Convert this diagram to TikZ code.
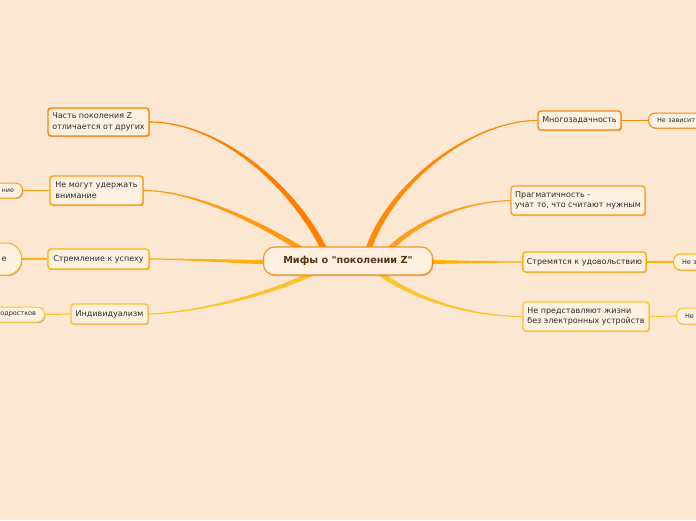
\documentclass[tikz,border=0pt]{standalone}
\usepackage{fontspec}
\setmainfont{DejaVu Sans}
\usetikzlibrary{calc, backgrounds, shadows}
\definecolor{pagebg}{HTML}{FCE8D2}
\definecolor{boxfill}{HTML}{FFF1E2}
\definecolor{inktext}{HTML}{2B2B2B}
\definecolor{rootink}{HTML}{5A3515}
\definecolor{rootline}{HTML}{F7901E}
\definecolor{brA}{HTML}{FF8000}
\definecolor{brB}{HTML}{FF9A12}
\definecolor{brC}{HTML}{FFAF10}
\definecolor{brD}{HTML}{FFC22A}
\definecolor{brE}{HTML}{FF8A05}
\definecolor{brF}{HTML}{FF9E20}
\definecolor{brG}{HTML}{FFB000}
\definecolor{brH}{HTML}{FFC52E}
\tikzset{
  softshadow/.style={drop shadow={shadow xshift=0.8pt,shadow yshift=-1.2pt,opacity=0.22,fill=black}},
  rootnode/.style={draw=rootline,line width=1.1pt,fill=boxfill,rounded corners=11pt,
    minimum width=169,minimum height=28,text=rootink,font=\fontsize{9.7}{11}\selectfont\bfseries,softshadow},
  topic/.style={draw=#1,line width=1.4pt,fill=boxfill,rounded corners=3pt,inner xsep=4pt,inner ysep=2pt,
    align=left,text=inktext,font=\fontsize{8}{10.8}\selectfont,softshadow},
  subleft/.style={draw=#1,line width=1pt,fill=boxfill,rounded corners=7pt,anchor=east,inner xsep=8.5pt,
    inner ysep=0pt,minimum height=15,text width=50,align=right,text=inktext,font=\fontsize{6.5}{8}\selectfont,softshadow},
  subright/.style={subleft=#1,anchor=west,align=left},
  leaf/.style={#1,line width=1.1pt},
}
% tapered branch: colour, root point, root handle, target handle, target, half width
\newcommand{\mythbranch}[6]{%
  \filldraw[#1,line width=1.1pt,line join=round]
    ($#2+#6$) .. controls +#3 and +#4 .. (#5)
    .. controls +#4 and +#3 .. ($#2-#6$) -- cycle;}

\begin{document}
\begin{tikzpicture}[x=1pt,y=-1pt]
  \useasboundingbox (0,0) rectangle (696,520);
  % ---- centre and first-level topics ----
  \node[rootnode] (mz) at (348,261) {Мифы о \textquotedbl поколении Z\textquotedbl};
  \node[topic=brA,minimum width=101,minimum height=28] (n1) at (98.5,122) {Часть поколения Z\\отличается от других};
  \node[topic=brB,minimum width=93,minimum height=29] (n2) at (96.5,190.5) {Не могут удержать\\внимание};
  \node[topic=brC,minimum width=101,minimum height=20] (n3) at (98.5,259) {Стремление к успеху};
  \node[topic=brD,minimum width=77,minimum height=20] (n4) at (109.5,314) {Индивидуализм};
  \node[topic=brE,minimum width=83,minimum height=19] (m1) at (579.5,120.5) {Многозадачность};
  \node[topic=brF,minimum width=134,minimum height=29] (m2) at (578,200.5) {Прагматичность -\\учат то, что считают нужным};
  \node[topic=brG,minimum width=123,minimum height=20] (m3) at (584.5,262) {Стремятся к удовольствию};
  \node[topic=brH,minimum width=126,minimum height=29] (m4) at (586,316.5) {Не представляют жизни\\без электронных устройств};
  % ---- second-level topics, cut by the page edge ----
  \node[subleft=brB] (s2) at (23,190.5) {ние};
  \node[subleft=brC,minimum height=32,rounded corners=15pt,inner xsep=15pt,
    font=\fontsize{8}{10}\selectfont] (s3) at (22,259) {е};
  \node[subleft=brD] (s4) at (45,314.5) {одростков};
  \node[subright=brE] (t1) at (648,120.5) {Не зависит};
  \node[subright=brG,minimum height=16] (t3) at (673,262) {Не з};
  \node[subright=brH,minimum height=16] (t4) at (676,316) {Не};
  \begin{scope}[on background layer]
    \fill[pagebg] (0,0) rectangle (696,520);
    \mythbranch{brA}{(mz)+(-18,1)}{(-30,-72)}{(71,0)}{n1.east}{(2.3,-1)}
    \mythbranch{brB}{(mz)+(-28,1)}{(-40,-29)}{(57,0)}{n2.east}{(1.3,-1.8)}
    \mythbranch{brC}{(mz)+(-40,2)}{(-40,0)}{(40,0)}{n3.east}{(0,2)}
    \mythbranch{brD}{(mz)+(-18,2)}{(-30,22)}{(62,-2)}{n4.east}{(1.2,1.6)}
    \mythbranch{brE}{(mz)+(17,1)}{(15,-70)}{(-70,0)}{m1.west}{(2.4,0.5)}
    \mythbranch{brF}{(mz)+(30,0)}{(30,-35)}{(-55,2)}{m2.west}{(1.7,1.4)}
    \mythbranch{brG}{(mz)+(40,1)}{(40,0)}{(-40,0)}{m3.west}{(0,2)}
    \mythbranch{brH}{(mz)+(20,2)}{(30,30)}{(-60,0)}{m4.west}{(-1.4,1.4)}
    \draw[leaf=brB] (n2.west) -- (s2.east);
    \draw[leaf=brC] (n3.west) -- (s3.east);
    \draw[leaf=brD] (n4.west) -- (s4.east);
    \draw[leaf=brE] (m1.east) -- (t1.west);
    \draw[leaf=brG] (m3.east) -- (t3.west);
    \draw[leaf=brH] (m4.east) -- (t4.west);
  \end{scope}
\end{tikzpicture}
\end{document}
